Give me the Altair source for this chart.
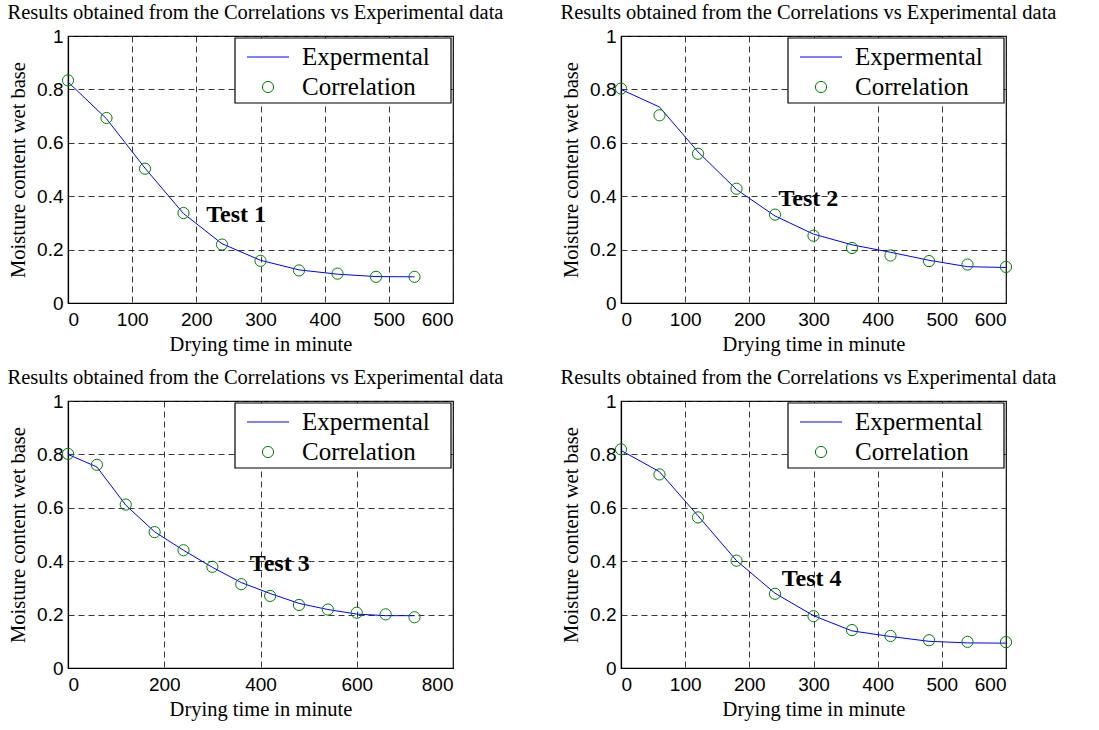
import altair as alt
import pandas as pd

SERIF = "Liberation Serif"
SANS = "Liberation Sans"

chart_title = "Results obtained from the Correlations vs Experimental data"
x_title = "Drying time in minute"
y_title = "Moisture content wet base"
series_names = ["Expermental", "Correlation"]
test_labels = ["Test 1", "Test 2", "Test 3", "Test 4"]

# Test 1
t1 = [0, 60, 120, 180, 240, 300, 360, 420, 480, 540]
exp1 = [0.828, 0.690, 0.505, 0.335, 0.222, 0.160, 0.124, 0.108, 0.099, 0.098]
cor1 = [0.834, 0.693, 0.503, 0.337, 0.219, 0.158, 0.122, 0.110, 0.098, 0.098]

# Test 2
t2 = [0, 60, 120, 180, 240, 300, 360, 420, 480, 540, 600]
exp2 = [0.800, 0.734, 0.566, 0.425, 0.326, 0.258, 0.218, 0.190, 0.160, 0.136, 0.133]
cor2 = [0.803, 0.703, 0.559, 0.428, 0.331, 0.252, 0.206, 0.178, 0.157, 0.144, 0.135]

# Test 3
t3 = [0, 60, 120, 180, 240, 300, 360, 420, 480, 540, 600, 660, 720]
exp3 = [0.800, 0.753, 0.610, 0.510, 0.441, 0.377, 0.320, 0.279, 0.242, 0.219, 0.202, 0.196, 0.196]
cor3 = [0.802, 0.761, 0.612, 0.509, 0.441, 0.379, 0.314, 0.270, 0.236, 0.219, 0.207, 0.201, 0.190]

# Test 4
t4 = [0, 60, 120, 180, 240, 300, 360, 420, 480, 540, 600]
exp4 = [0.815, 0.735, 0.570, 0.402, 0.280, 0.196, 0.139, 0.118, 0.100, 0.094, 0.093]
cor4 = [0.819, 0.725, 0.564, 0.402, 0.278, 0.194, 0.142, 0.120, 0.104, 0.098, 0.097]

x_max = [600, 600, 800, 600]
x_step = [100, 100, 200, 100]
label_x = [262, 292, 440, 297]
label_y = [0.33, 0.39, 0.39, 0.335]
y_ticks = [0, 0.2, 0.4, 0.6, 0.8, 1]

W, H = 385, 267


def panel(t, e, c, xmax, step, label, lx, ly):
    df = pd.DataFrame({"t": t, "exp": e, "cor": c})
    xs = alt.Scale(domain=[0, xmax], nice=False, zero=True)
    ys = alt.Scale(domain=[0, 1], nice=False)
    xax = alt.Axis(values=list(range(0, xmax + 1, step)), title=x_title)
    yax = alt.Axis(values=y_ticks, title=y_title, format="~g")

    line = alt.Chart(df).mark_line(color="#0000ff", strokeWidth=1).encode(
        x=alt.X("t:Q", scale=xs, axis=xax), y=alt.Y("exp:Q", scale=ys, axis=yax)
    )
    pts = alt.Chart(df).mark_point(
        shape="circle", filled=False, color="#008000", size=125, strokeWidth=1, opacity=1
    ).encode(x=alt.X("t:Q"), y=alt.Y("cor:Q"))

    lab_df = pd.DataFrame({"t": [lx], "exp": [ly], "label": [label]})
    txt = alt.Chart(lab_df).mark_text(
        font=SERIF, fontSize=24, fontWeight="bold", align="center", baseline="middle", color="black"
    ).encode(x=alt.X("t:Q"), y=alt.Y("exp:Q"), text="label:N")

    # legend box
    leg_df = pd.DataFrame({"name": series_names})
    box = alt.Chart(leg_df.head(1)).mark_rect(
        fill="white", stroke="black", strokeWidth=1.2
    ).encode(x=alt.value(167), x2=alt.value(383), y=alt.value(2), y2=alt.value(67))
    leg_line = alt.Chart(leg_df.head(1)).mark_rule(color="#0000ff", strokeWidth=1).encode(
        x=alt.value(179), x2=alt.value(221), y=alt.value(21)
    )
    leg_pt = alt.Chart(leg_df.tail(1)).mark_point(
        shape="circle", filled=False, color="#008000", size=125, strokeWidth=1, opacity=1
    ).encode(x=alt.value(200), y=alt.value(51))
    leg_txt1 = alt.Chart(leg_df.head(1)).mark_text(
        font=SERIF, fontSize=25, align="left", baseline="middle", color="black"
    ).encode(x=alt.value(234), y=alt.value(21), text="name:N")
    leg_txt2 = alt.Chart(leg_df.tail(1)).mark_text(
        font=SERIF, fontSize=25, align="left", baseline="middle", color="black"
    ).encode(x=alt.value(234), y=alt.value(51), text="name:N")

    return alt.layer(line, pts, txt, box, leg_line, leg_pt, leg_txt1, leg_txt2).properties(
        width=W,
        height=H,
        title=alt.TitleParams(
            chart_title, font=SERIF, fontSize=20.5, fontWeight="normal", color="black",
            anchor="middle", offset=4, dx=-5
        ),
    )


p1 = panel(t1, exp1, cor1, x_max[0], x_step[0], test_labels[0], label_x[0], label_y[0])
p2 = panel(t2, exp2, cor2, x_max[1], x_step[1], test_labels[1], label_x[1], label_y[1])
p3 = panel(t3, exp3, cor3, x_max[2], x_step[2], test_labels[2], label_x[2], label_y[2])
p4 = panel(t4, exp4, cor4, x_max[3], x_step[3], test_labels[3], label_x[3], label_y[3])

chart = alt.concat(
    p1, p2, p3, p4,
    columns=2,
    spacing={"row": 98, "column": 168},
    bounds="flush",
).properties(
    padding={"left": 6, "top": 1, "right": 0, "bottom": 0},
    background="white",
).configure_view(
    stroke="black", strokeWidth=1.2
).configure_axis(
    labelFont=SANS, labelFontSize=19, labelColor="black",
    titleFont=SERIF, titleFontSize=20.5, titleFontWeight="normal", titleColor="black",
    grid=True, gridColor="#222", gridDash=[6, 4], gridWidth=1, gridOpacity=0.9,
    domain=True, domainColor="black", domainWidth=1.2,
    ticks=True, tickSize=0, labelPadding=6,
).configure_axisX(
    titlePadding=5, labelPadding=7
).configure_axisY(
    titlePadding=8, labelPadding=5
)

chart.save("out.html", embed_options={"renderer": "svg", "actions": False})
